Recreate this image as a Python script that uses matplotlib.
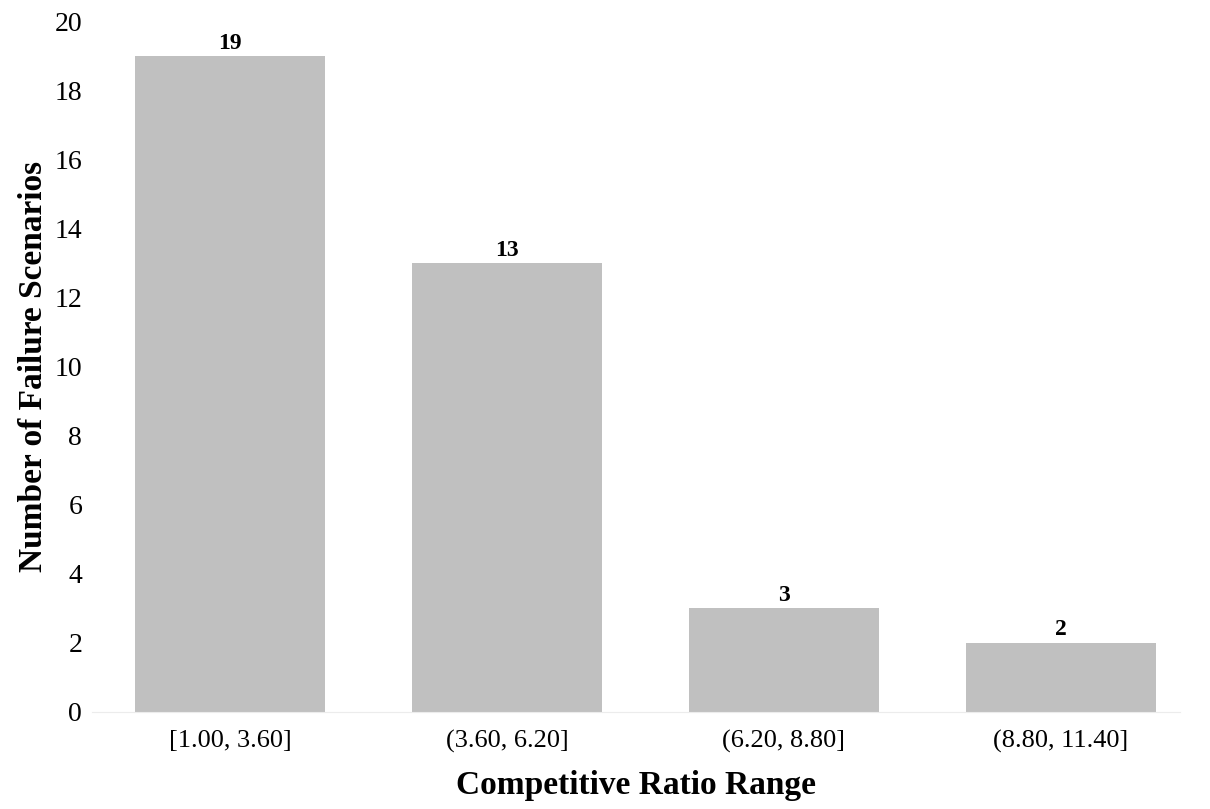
import matplotlib.pyplot as plt

# data
categories = ['[1.00, 3.60]', '(3.60, 6.20]', '(6.20, 8.80]', '(8.80, 11.40]']
counts = [19, 13, 3, 2]

plt.rcParams['font.family'] = ['Liberation Serif', 'DejaVu Serif']

fig = plt.figure(figsize=(12.1, 8.09), dpi=100)
ax = fig.add_axes([0.076, 0.12, 0.899, 0.853])

x = range(len(categories))
bars = ax.bar(x, counts, width=0.686, color='#c0c0c0')

for b, v in zip(bars, counts):
    ax.text(b.get_x() + b.get_width() / 2, v + 0.08, str(v),
            ha='center', va='bottom', fontsize=17, fontweight='bold')

ax.set_xticks(list(x))
ax.set_xticklabels(categories)
ax.set_xlim(-0.5, 3.43)
ax.set_ylim(0, 20)
ax.set_yticks(range(0, 21, 2))
ax.tick_params(axis='both', length=0, labelsize=19)
ax.tick_params(axis='y', pad=7, labelsize=20)
ax.tick_params(axis='x', pad=13)

for s in ['top', 'right', 'left']:
    ax.spines[s].set_visible(False)
ax.spines['bottom'].set_color('#ececec')

ax.set_xlabel('Competitive Ratio Range', fontsize=24, fontweight='bold', labelpad=12)
ax.set_ylabel('Number of Failure Scenarios', fontsize=24, fontweight='bold', labelpad=4)

fig.savefig('out.png', dpi=100)
